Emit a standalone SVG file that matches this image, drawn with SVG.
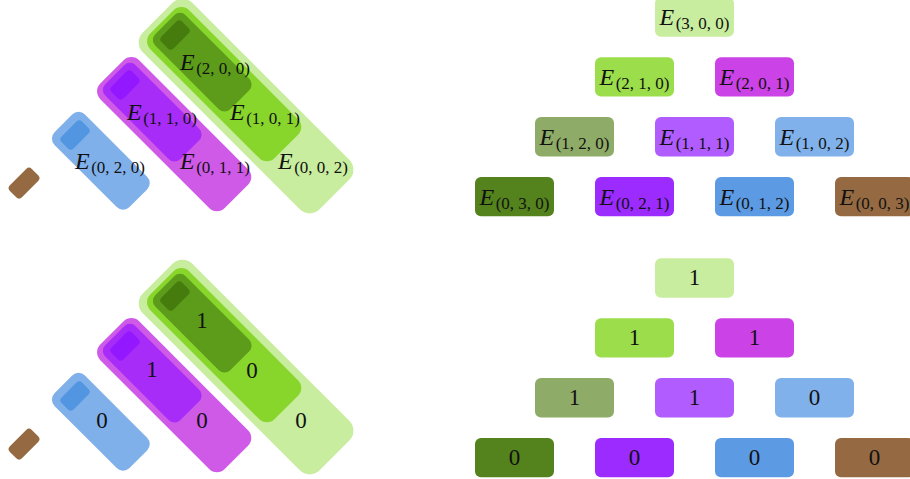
<svg xmlns="http://www.w3.org/2000/svg" width="910" height="479" viewBox="0 0 910 479">
<style>
.t{font-family:"Liberation Serif","Times New Roman",serif;fill:#111}
.E{font-style:italic;font-size:24px}
.s{font-size:17px}
.d{font-size:23px}
.c300{fill:#c8ed9e}.c210{fill:#9bdd4b}.c201{fill:#cb42e6}.c120{fill:#8eab67}.c111{fill:#b05cff}
.c102{fill:#80b1ea}.c030{fill:#54821d}.c021{fill:#9b2bff}.c012{fill:#5c9be3}.c003{fill:#956a42}
.g0{fill:#c8ed9e}.g1{fill:#88d62c}.g2{fill:#5c9c1a}.g3{fill:#467c0e}
.p1{fill:#d05ae8}.p2{fill:#a82cf8}.p3{fill:#9418ff}
.b2{fill:#80b0ea}.b3{fill:#5296e2}.br{fill:#956a42}
</style>
<g id="connectors"/>
<!-- top-left stacks -->
<g id="stacks-top" transform="rotate(45)">
  <g id="green-top">
    <rect class="g0" x="124" y="-134" width="250" height="70" rx="14"/>
    <rect class="g1" x="130" y="-126.5" width="176" height="55" rx="11"/>
    <rect class="g2" x="134" y="-120.5" width="106" height="43" rx="8"/>
    <rect class="g3" x="140" y="-113.5" width="17" height="29" rx="4"/>
  </g>
  <g id="purple-top">
    <rect class="p1" x="130" y="-55.8" width="176" height="55" rx="11"/>
    <rect class="p2" x="134" y="-49.8" width="106" height="43" rx="8"/>
    <rect class="p3" x="140" y="-42.8" width="17" height="29" rx="4"/>
  </g>
  <g id="blue-top">
    <rect class="b2" x="132" y="20.9" width="106" height="43" rx="9"/>
    <rect class="b3" x="140" y="27.9" width="17" height="29" rx="4"/>
  </g>
  <g id="brown-top">
    <rect class="br" x="138" y="97" width="17" height="31" rx="4"/>
  </g>
</g>
<g id="labels-top-left" class="t">
  <text x="180" y="70"><tspan class="E">E</tspan><tspan class="s" dx="1.5" dy="4">(2, 0, 0)</tspan></text>
  <text x="127" y="120"><tspan class="E">E</tspan><tspan class="s" dx="1.5" dy="4">(1, 1, 0)</tspan></text>
  <text x="230" y="120"><tspan class="E">E</tspan><tspan class="s" dx="1.5" dy="4">(1, 0, 1)</tspan></text>
  <text x="75" y="169"><tspan class="E">E</tspan><tspan class="s" dx="1.5" dy="4">(0, 2, 0)</tspan></text>
  <text x="180" y="169"><tspan class="E">E</tspan><tspan class="s" dx="1.5" dy="4">(0, 1, 1)</tspan></text>
  <text x="278" y="169"><tspan class="E">E</tspan><tspan class="s" dx="1.5" dy="4">(0, 0, 2)</tspan></text>
</g>
<!-- bottom-left stacks -->
<g id="stacks-bottom" transform="translate(0,261) rotate(45)">
  <g id="green-bottom">
    <rect class="g0" x="124" y="-134" width="250" height="70" rx="14"/>
    <rect class="g1" x="130" y="-126.5" width="176" height="55" rx="11"/>
    <rect class="g2" x="134" y="-120.5" width="106" height="43" rx="8"/>
    <rect class="g3" x="140" y="-113.5" width="17" height="29" rx="4"/>
  </g>
  <g id="purple-bottom">
    <rect class="p1" x="130" y="-55.8" width="176" height="55" rx="11"/>
    <rect class="p2" x="134" y="-49.8" width="106" height="43" rx="8"/>
    <rect class="p3" x="140" y="-42.8" width="17" height="29" rx="4"/>
  </g>
  <g id="blue-bottom">
    <rect class="b2" x="132" y="20.9" width="106" height="43" rx="9"/>
    <rect class="b3" x="140" y="27.9" width="17" height="29" rx="4"/>
  </g>
  <g id="brown-bottom">
    <rect class="br" x="138" y="97" width="17" height="31" rx="4"/>
  </g>
</g>
<g id="labels-bottom-left" class="t d" text-anchor="middle">
  <text x="202" y="328">1</text>
  <text x="152" y="377">1</text>
  <text x="252" y="378">0</text>
  <text x="102" y="428">0</text>
  <text x="202" y="428">0</text>
  <text x="301" y="428">0</text>
</g>
<!-- top-right triangle -->
<g id="tri-top" class="t" text-anchor="middle">
  <g id="n300"><rect class="c300" x="655" y="-2.7" width="79" height="39.4" rx="6"/><text x="694.5" y="25.2"><tspan class="E">E</tspan><tspan class="s" dx="1.5" dy="4">(3, 0, 0)</tspan></text></g>
  <g id="n210"><rect class="c210" x="595" y="57.2" width="79" height="39.4" rx="6"/><text x="634.5" y="85.1"><tspan class="E">E</tspan><tspan class="s" dx="1.5" dy="4">(2, 1, 0)</tspan></text></g>
  <g id="n201"><rect class="c201" x="715" y="57.2" width="79" height="39.4" rx="6"/><text x="754.5" y="85.1"><tspan class="E">E</tspan><tspan class="s" dx="1.5" dy="4">(2, 0, 1)</tspan></text></g>
  <g id="n120"><rect class="c120" x="535" y="117.1" width="79" height="39.4" rx="6"/><text x="574.5" y="145"><tspan class="E">E</tspan><tspan class="s" dx="1.5" dy="4">(1, 2, 0)</tspan></text></g>
  <g id="n111"><rect class="c111" x="655" y="117.1" width="79" height="39.4" rx="6"/><text x="694.5" y="145"><tspan class="E">E</tspan><tspan class="s" dx="1.5" dy="4">(1, 1, 1)</tspan></text></g>
  <g id="n102"><rect class="c102" x="775" y="117.1" width="79" height="39.4" rx="6"/><text x="814.5" y="145"><tspan class="E">E</tspan><tspan class="s" dx="1.5" dy="4">(1, 0, 2)</tspan></text></g>
  <g id="n030"><rect class="c030" x="475" y="176.9" width="79" height="39.4" rx="6"/><text x="514.5" y="204.8"><tspan class="E">E</tspan><tspan class="s" dx="1.5" dy="4">(0, 3, 0)</tspan></text></g>
  <g id="n021"><rect class="c021" x="595" y="176.9" width="79" height="39.4" rx="6"/><text x="634.5" y="204.8"><tspan class="E">E</tspan><tspan class="s" dx="1.5" dy="4">(0, 2, 1)</tspan></text></g>
  <g id="n012"><rect class="c012" x="715" y="176.9" width="79" height="39.4" rx="6"/><text x="754.5" y="204.8"><tspan class="E">E</tspan><tspan class="s" dx="1.5" dy="4">(0, 1, 2)</tspan></text></g>
  <g id="n003"><rect class="c003" x="835" y="176.9" width="79" height="39.4" rx="6"/><text x="874.5" y="204.8"><tspan class="E">E</tspan><tspan class="s" dx="1.5" dy="4">(0, 0, 3)</tspan></text></g>
</g>
<!-- bottom-right triangle -->
<g id="tri-bottom" class="t d" text-anchor="middle">
  <g id="v300"><rect class="c300" x="655" y="258.3" width="79" height="39.4" rx="6"/><text x="694.5" y="285">1</text></g>
  <g id="v210"><rect class="c210" x="595" y="318.2" width="79" height="39.4" rx="6"/><text x="634.5" y="345">1</text></g>
  <g id="v201"><rect class="c201" x="715" y="318.2" width="79" height="39.4" rx="6"/><text x="754.5" y="345">1</text></g>
  <g id="v120"><rect class="c120" x="535" y="378.1" width="79" height="39.4" rx="6"/><text x="574.5" y="405">1</text></g>
  <g id="v111"><rect class="c111" x="655" y="378.1" width="79" height="39.4" rx="6"/><text x="694.5" y="405">1</text></g>
  <g id="v102"><rect class="c102" x="775" y="378.1" width="79" height="39.4" rx="6"/><text x="814.5" y="405">0</text></g>
  <g id="v030"><rect class="c030" x="475" y="437.9" width="79" height="39.4" rx="6"/><text x="514.5" y="465">0</text></g>
  <g id="v021"><rect class="c021" x="595" y="437.9" width="79" height="39.4" rx="6"/><text x="634.5" y="465">0</text></g>
  <g id="v012"><rect class="c012" x="715" y="437.9" width="79" height="39.4" rx="6"/><text x="754.5" y="465">0</text></g>
  <g id="v003"><rect class="c003" x="835" y="437.9" width="79" height="39.4" rx="6"/><text x="874.5" y="465">0</text></g>
</g>
</svg>
